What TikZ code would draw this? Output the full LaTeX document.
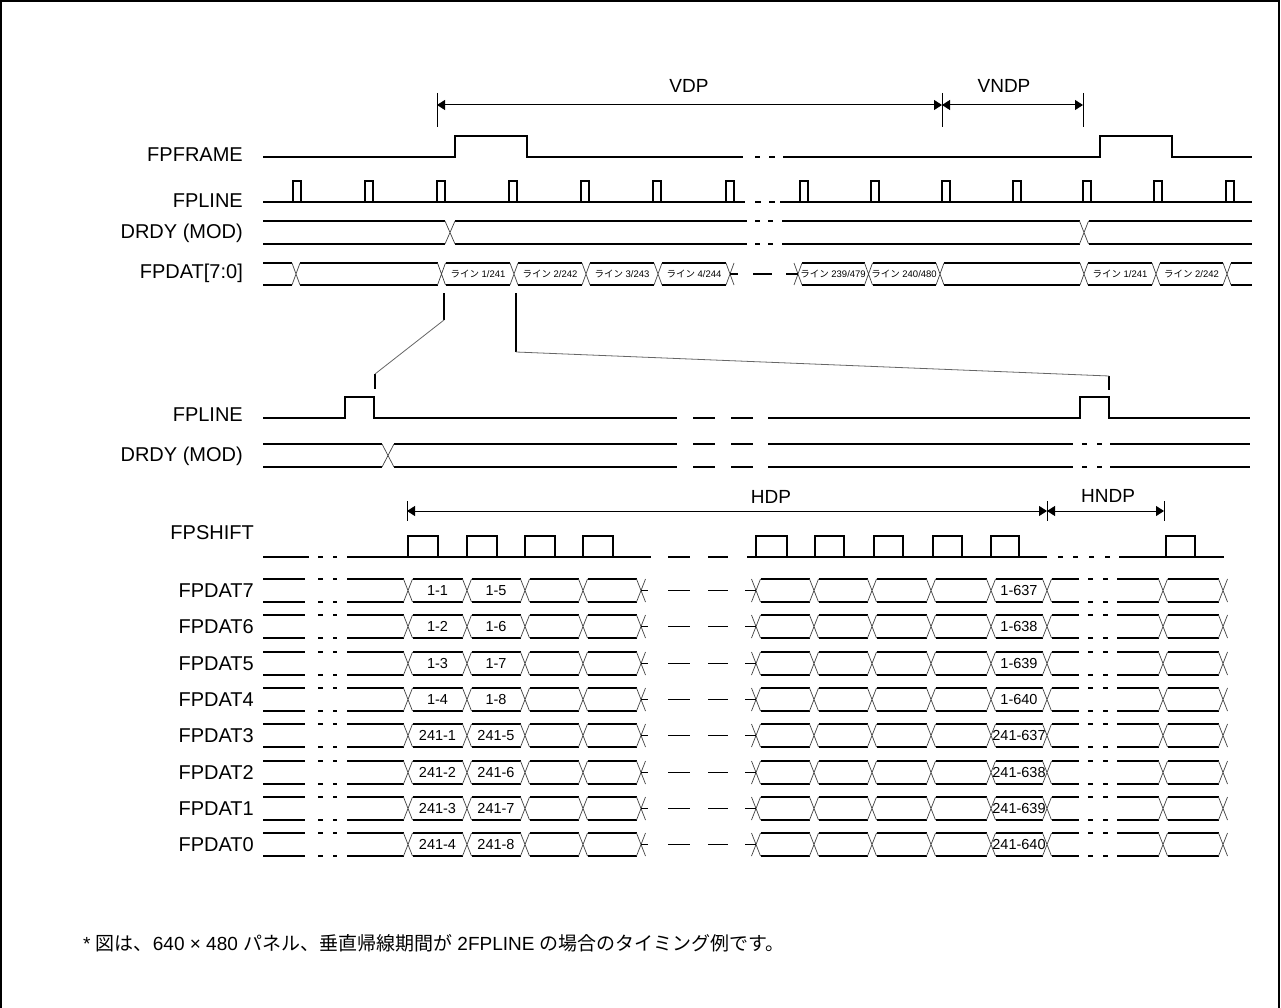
\documentclass[tikz,border=0pt]{standalone}
\usepackage{fontspec}
\setmainfont{Liberation Sans}
\newfontfamily\jpfont{Noto Sans CJK JP}
\usetikzlibrary{arrows.meta}
\newcommand{\jp}[1]{{\jpfont #1}}
\newcommand{\busseg}[4]{\draw[wave] (#1,#3) -- (#2,#3) (#1,#4) -- (#2,#4);}
\newcommand{\busx}[4]{\draw[xline] ({#1-#2},#3) -- ({#1+#2},#4) ({#1-#2},#4) -- ({#1+#2},#3);}
\tikzset{
  wave/.style={line width=1.1pt, line join=miter},
  xline/.style={line width=0.7pt, black!75},
  zoomline/.style={line width=0.8pt, black!60},
  dim/.style={line width=1pt, {Triangle[length=8pt,width=10pt]}-{Triangle[length=8pt,width=10pt]}},
  tickmark/.style={line width=1pt},
  siglabel/.style={anchor=east, inner sep=0pt, font=\fontsize{20}{24}\selectfont},
  dimlabel/.style={inner sep=0pt, font=\fontsize{19}{22}\selectfont},
  cell/.style={inner sep=0pt, font=\fontsize{9.5}{10}\selectfont},
  datcell/.style={inner sep=0pt, font=\fontsize{14.5}{16}\selectfont},
}
\begin{document}
\begin{tikzpicture}[x=1pt, y=-1pt]
\useasboundingbox (0,0) rectangle (1281,1008);
\draw[line width=1.2pt] (1,1008) -- (1,1) -- (1279,1) -- (1279,1008);

% VDP / VNDP
\coordinate (vdpL) at (437,105);
\coordinate (vdpR) at (942,105);
\coordinate (vndpR) at (1083,105);
\foreach \c in {vdpL,vdpR,vndpR}
  \draw[tickmark] ([yshift=12pt]\c) -- ([yshift=-22pt]\c);
\draw[dim] (vdpL) -- (vdpR);
\draw[dim] (vdpR) -- (vndpR);
\node[dimlabel] (vdp) at (689,86) {VDP};
\node[dimlabel] (vndp) at (1004,86) {VNDP};

% FPFRAME
\node[siglabel] (fpframe) at (243,155) {FPFRAME};
\draw[wave] (263,157) -- (455,157) -- (455,136) -- (527,136) -- (527,157) -- (743,157)
  (755,157) -- (760,157) (769,157) -- (775,157)
  (783,157) -- (1100,157) -- (1100,136) -- (1172,136) -- (1172,157) -- (1252,157);

% FPLINE
\node[siglabel] (fpline) at (243,201) {FPLINE};
\draw[wave] (263,202) -- (745,202) (755,202) -- (761,202) (769,202) -- (775,202) (780,202) -- (1252,202);
\foreach \p in {293,365,437,509,581,653,726,800,871,942,1013,1083,1154,1226}
  \draw[wave] (\p,202) -- (\p,181) -- (\p+8,181) -- (\p+8,202);

% DRDY (MOD)
\node[siglabel] (drdy) at (243,233) {DRDY (MOD)};
\foreach \xa/\xb in {263/445,455/747,755/760,768/773,782/1079.5,1088.5/1252}
  {\busseg{\xa}{\xb}{221}{244}}
\busx{450}{5}{221}{244}
\busx{1084}{4.5}{221}{244}

% FPDAT[7:0]
\node[siglabel] (fpdat) at (243,273) {FPDAT[7:0]};
\foreach \xa/\xb in {263/292,300/437.5,445.5/510,518/582,590/654,662/726,802/864.5,872.5/936,944/1080,1088/1152,1160/1223,1231/1252}
  {\busseg{\xa}{\xb}{263}{285}}
\foreach \xc in {296,441.5,514,586,658,730,798,868.5,940,1084,1156,1227}
  {\busx{\xc}{4}{263}{285}}
\draw[wave] (730,274) -- (738,274) (753,274) -- (772,274) (786,274) -- (798,274);
\node[cell] (ln1) at (478,274) {\jp{ライン} 1/241};
\node[cell] (ln2) at (550,274) {\jp{ライン} 2/242};
\node[cell] (ln3) at (622,274) {\jp{ライン} 3/243};
\node[cell] (ln4) at (694,274) {\jp{ライン} 4/244};
\node[cell] (ln239) at (833,274) {\jp{ライン} 239/479};
\node[cell] (ln240) at (904,274) {\jp{ライン} 240/480};
\node[cell] (lnb1) at (1120,274) {\jp{ライン} 1/241};
\node[cell] (lnb2) at (1191.5,274) {\jp{ライン} 2/242};

% zoom lines
\coordinate (za1) at (444,293);
\coordinate (za2) at (444,320);
\coordinate (za3) at (375,374);
\coordinate (za4) at (375,389);
\coordinate (zb1) at (516,293);
\coordinate (zb2) at (516,352);
\coordinate (zb3) at (1109,376);
\coordinate (zb4) at (1109,390);
\draw[wave] (za1) -- (za2) (za3) -- (za4) (zb1) -- (zb2) (zb3) -- (zb4);
\draw[zoomline] (za2) -- (za3) (zb2) -- (zb3);

% FPLINE (detail)
\node[siglabel] (fpline2) at (243,415) {FPLINE};
\draw[wave] (263,418) -- (345,418) -- (345,397) -- (374,397) -- (374,418) -- (677,418)
  (693,418) -- (715,418) (731,418) -- (753,418)
  (768,418) -- (1080,418) -- (1080,397) -- (1109,397) -- (1109,418) -- (1250,418);

% DRDY (MOD) (detail)
\node[siglabel] (drdy2) at (243,456) {DRDY (MOD)};
\foreach \xa/\xb in {263/382,394/677,693/715,731/753,768/1073,1082/1087,1097/1102,1110/1250}
  {\busseg{\xa}{\xb}{444}{467}}
\busx{388}{6}{444}{467}

% HDP / HNDP
\coordinate (hdpL) at (407,511);
\coordinate (hdpR) at (1047,511);
\coordinate (hndpR) at (1164,511);
\foreach \c in {hdpL,hdpR,hndpR}
  \draw[tickmark] ([yshift=10pt]\c) -- ([yshift=-10pt]\c);
\draw[dim] (hdpL) -- (hdpR);
\draw[dim] (hdpR) -- (hndpR);
\node[dimlabel] (hdp) at (771,497) {HDP};
\node[dimlabel] (hndp) at (1108,496) {HNDP};

% FPSHIFT
\node[siglabel] (fpshift) at (254,533) {FPSHIFT};
\draw[wave] (263,557) -- (309,557) (318,557) -- (323,557) (333,557) -- (337,557)
  (347,557) -- (651,557) (668,557) -- (690,557) (708,557) -- (728,557)
  (747,557) -- (1047,557) (1058,557) -- (1063,557) (1073,557) -- (1078,557)
  (1089,557) -- (1094,557) (1105,557) -- (1110,557) (1119,557) -- (1224,557);
\foreach \p/\w in {408/30,467/30,525/30,583/30,756/31,815/29,874/29,933/29,991/28,1166/29}
  \draw[wave] (\p,557) -- (\p,536) -- (\p+\w,536) -- (\p+\w,557);

% FPDAT7 .. FPDAT0
\foreach \sig/\k/\la/\lb/\lc in {FPDAT7/0/1-1/1-5/1-637, FPDAT6/1/1-2/1-6/1-638,
    FPDAT5/2/1-3/1-7/1-639, FPDAT4/3/1-4/1-8/1-640, FPDAT3/4/241-1/241-5/241-637,
    FPDAT2/5/241-2/241-6/241-638, FPDAT1/6/241-3/241-7/241-639, FPDAT0/7/241-4/241-8/241-640}{
  \pgfmathsetmacro\ytop{round(579+36.3*\k)}
  \pgfmathsetmacro\ybot{\ytop+23}
  \pgfmathsetmacro\ymid{\ytop+11.5}
  \node[siglabel] (dat\k) at (254,\ymid) {\sig};
  \foreach \xa/\xb in {263/305,318/323,333/337,347/403.5,412.5/462.5,471.5/520.5,529.5/578.5,587.5/636.5,
      760.5/809.5,818.5/867.5,876.5/926.5,935.5/986.5,995.5/1042.5,1051.5/1079,1088/1093,1103/1108,
      1117/1158.5,1167.5/1218.5}
    {\busseg{\xa}{\xb}{\ytop}{\ybot}}
  \foreach \xc in {408,467,525,583,641,756,814,872,931,991,1047,1163,1223}
    {\busx{\xc}{4.5}{\ytop}{\ybot}}
  \draw[wave] (641,\ymid) -- (648,\ymid) (668,\ymid) -- (690,\ymid) (708,\ymid) -- (728,\ymid) (745,\ymid) -- (756,\ymid);
  \node[datcell] (da\k) at (437.5,\ymid) {\la};
  \node[datcell] (db\k) at (496,\ymid) {\lb};
  \node[datcell] (dc\k) at (1019,\ymid) {\lc};
}

% note
\node[anchor=west, inner sep=0pt, font=\fontsize{19}{22}\selectfont] (note) at (83,943)
  {* \jp{図は、}640 × 480 \jp{パネル、垂直帰線期間が} 2FPLINE \jp{の場合のタイミング例です。}};
\end{tikzpicture}
\end{document}
